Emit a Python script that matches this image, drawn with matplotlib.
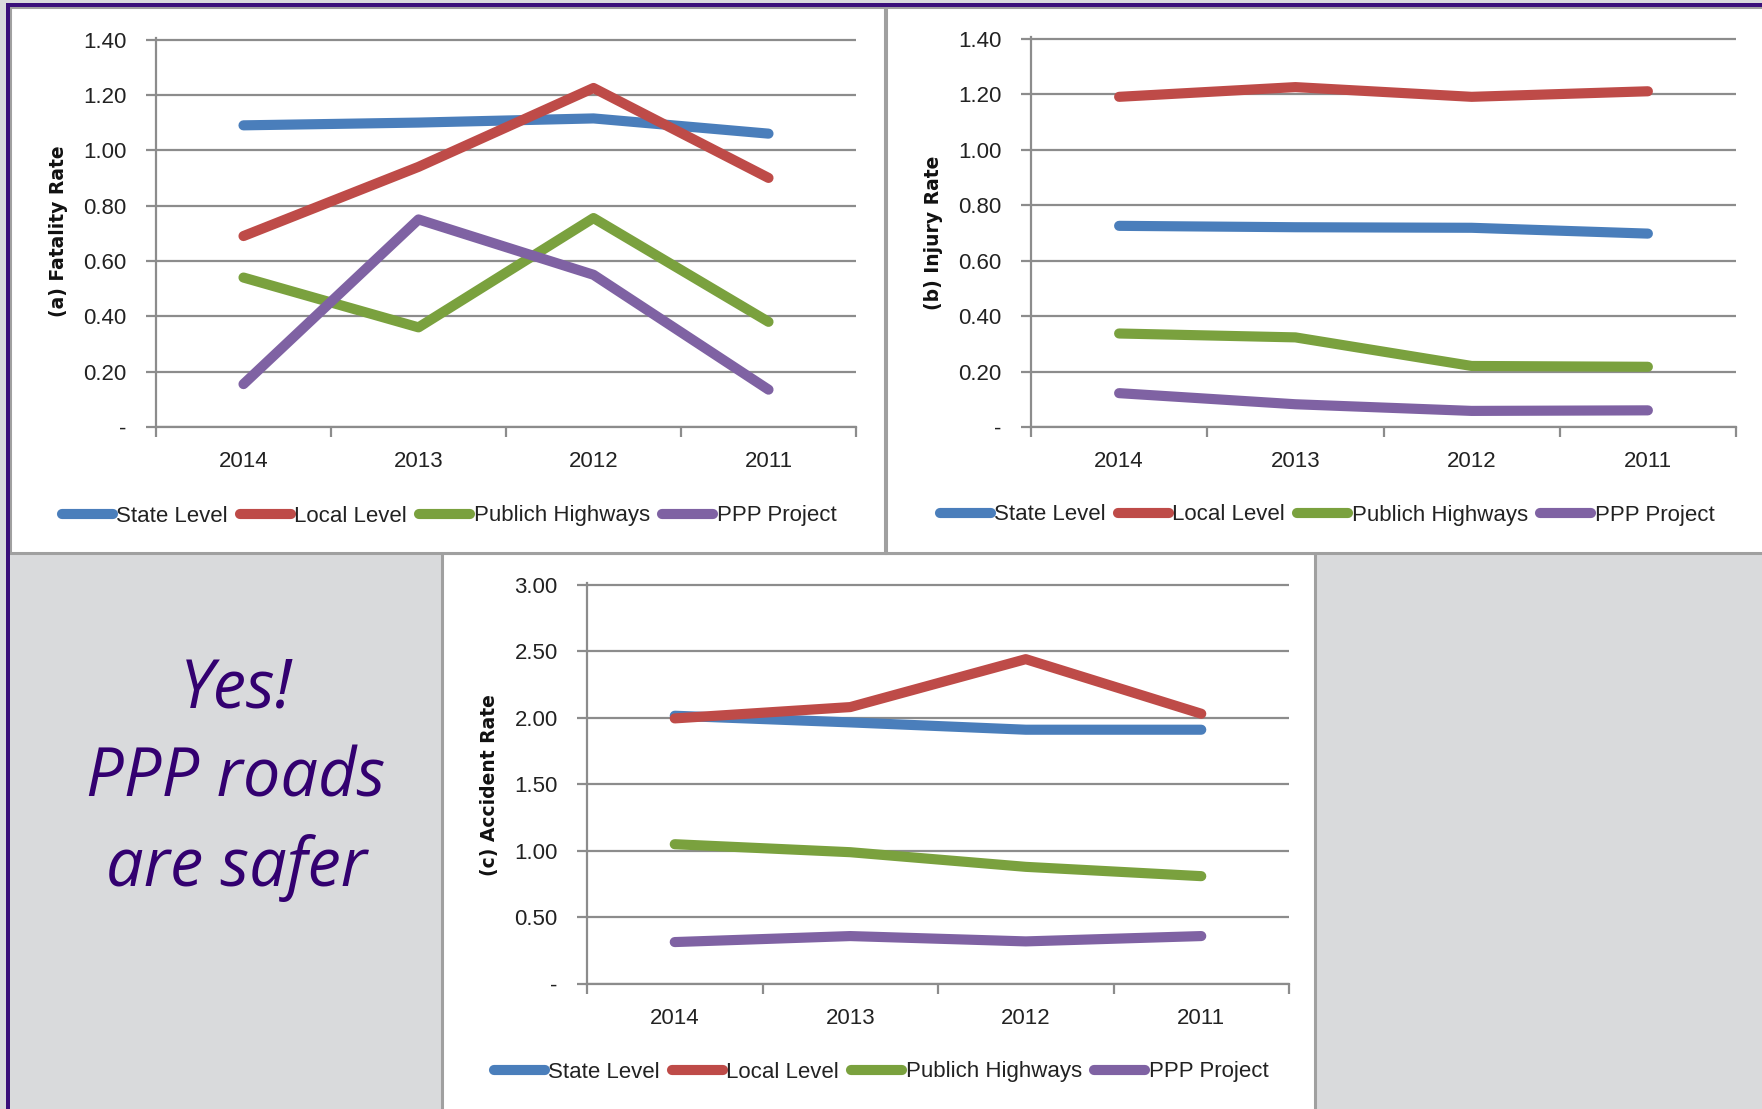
import numpy as np
import matplotlib
matplotlib.use("Agg")
import matplotlib.pyplot as plt
from matplotlib.patches import Rectangle

W, H = 1762, 1109

years = ["2014", "2013", "2012", "2011"]
series_names = ["State Level", "Local Level", "Publich Highways", "PPP Project"]
colors = ["#4a7ebb", "#be4b48", "#7aa13e", "#7f62a3"]

# (a) fatality rate
fatality_state = [1.09, 1.10, 1.115, 1.06]
fatality_local = [0.69, 0.94, 1.225, 0.90]
fatality_highways = [0.54, 0.36, 0.755, 0.38]
fatality_ppp = [0.155, 0.75, 0.55, 0.135]

# (b) injury rate
injury_state = [0.725, 0.72, 0.718, 0.697]
injury_local = [1.19, 1.225, 1.19, 1.21]
injury_highways = [0.337, 0.323, 0.22, 0.217]
injury_ppp = [0.122, 0.082, 0.058, 0.06]

# (c) accident rate
accident_state = [2.015, 1.965, 1.91, 1.91]
accident_local = [1.995, 2.08, 2.44, 2.03]
accident_highways = [1.05, 0.99, 0.88, 0.81]
accident_ppp = [0.315, 0.36, 0.32, 0.36]

GRID = "#8c8c8c"
PURPLE = "#3a0f7a"
TEXTC = "#222222"
TICKFONT = dict(family="Liberation Sans", size=16)


def fx(x):
    return x / W


def fy(y):
    return 1 - y / H


fig = plt.figure(figsize=(17.62, 11.09), dpi=100, facecolor="#d9dadc")


def rect(x0, y0, x1, y1, fc, ec="none", lw=0):
    fig.add_artist(Rectangle((fx(x0), fy(y1)), (x1 - x0) / W, (y1 - y0) / H,
                             transform=fig.transFigure, facecolor=fc,
                             edgecolor=ec, linewidth=lw, zorder=-5))


# white chart panels
rect(442, 553, 1315, 1115, "white", "#a0a0a0", 2.2)
rect(10, 7, 885, 553, "white", "#a0a0a0", 2.2)
rect(886, 7, 1765, 553, "white", "#a0a0a0", 2.2)
# slide border
rect(6, 3, 1762, 7, PURPLE)
rect(6, 3, 10, 1109, PURPLE)


def panel(left, top, right, bottom, ymax, step, data, ylabel, lab_xy, leg_xy):
    ax = fig.add_axes([fx(left), fy(bottom), (right - left) / W, (bottom - top) / H])
    ax.patch.set_alpha(0)
    x = np.arange(len(years)) + 0.5
    for vals, c, n in zip(data, colors, series_names):
        ax.plot(x, vals, color=c, lw=7.3, solid_capstyle="round",
                solid_joinstyle="round", label=n, zorder=3)
    ax.set_xlim(0, len(years))
    ax.set_ylim(0, ymax * 1.004)

    yt = np.arange(0, ymax + step / 2, step)
    ax.set_yticks(yt)
    ax.set_yticklabels(["-" if v == 0 else f"{v:.2f}" for v in yt], fontdict=TICKFONT)
    ax.yaxis.grid(True, color=GRID, lw=1.6)
    ax.set_axisbelow(True)

    ax.set_xticks(range(len(years) + 1))
    ax.set_xticklabels([])
    ax.set_xticks(x, minor=True)
    ax.set_xticklabels(years, minor=True, fontdict=TICKFONT)

    ax.tick_params(axis="x", which="major", length=7, width=1.6, color=GRID)
    ax.tick_params(axis="x", which="minor", length=0, pad=17, labelcolor=TEXTC)
    ax.tick_params(axis="y", length=7, width=1.6, color=GRID, pad=14, labelcolor=TEXTC)
    for s in ["top", "right"]:
        ax.spines[s].set_visible(False)
    for s in ["left", "bottom"]:
        ax.spines[s].set_color(GRID)
        ax.spines[s].set_linewidth(1.6)

    fig.text(fx(lab_xy[0]), fy(lab_xy[1]), ylabel, rotation=90, ha="center", va="center",
             fontsize=13.5, fontweight="bold", family="DejaVu Sans", color="#111111")

    ax.legend(loc="center", bbox_to_anchor=(fx(leg_xy[0]), fy(leg_xy[1])),
              bbox_transform=fig.transFigure, ncol=4, frameon=False,
              handlelength=2.3, handletextpad=0.15, columnspacing=0.55,
              prop=TICKFONT, labelcolor=TEXTC)
    return ax


panel(156, 38, 856, 427, 1.4, 0.2,
      [fatality_state, fatality_local, fatality_highways, fatality_ppp],
      "(a) Fatality Rate", (58, 231), (449, 516))
panel(1031, 37, 1736, 427, 1.4, 0.2,
      [injury_state, injury_local, injury_highways, injury_ppp],
      "(b) Injury Rate", (933, 233), (1327, 515))
panel(587, 583, 1289, 984, 3.0, 0.5,
      [accident_state, accident_local, accident_highways, accident_ppp],
      "(c) Accident Rate", (489, 785), (881, 1072))

fig.text(fx(236), fy(779), "Yes!\nPPP roads\nare safer", ha="center", va="center",
         fontsize=48, style="italic", family="Open Sans", color="#330070",
         linespacing=1.42)

fig.savefig("out.png", dpi=100, facecolor=fig.get_facecolor())
